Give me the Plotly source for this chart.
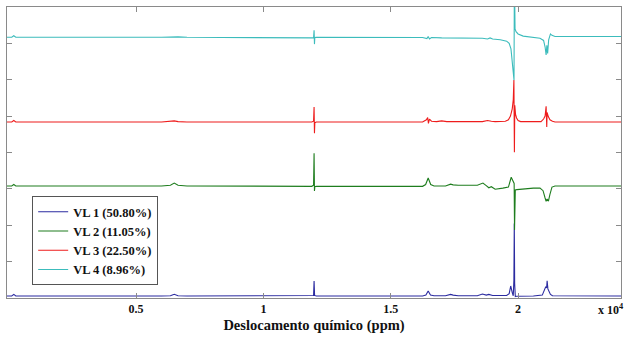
import plotly.graph_objects as go

# ---- data (x in units of 10^4) ----
X_TICKS = [0.5, 1, 1.5, 2]
X_TICK_TEXT = ["0.5", "1", "1.5", "2"]
Y_TICKS = [0, 1, 2, 3, 4, 5, 6, 7, 8]

SERIES_NAMES = ["VL 1 (50.80%)", "VL 2 (11.05%)", "VL 3 (22.50%)", "VL 4 (8.96%)"]
SERIES_COLORS = ["#2b2ba0", "#1e7d1e", "#ee1c1c", "#3cbcbc"]

vl1_x = [-0.007, 0.012, 0.02, 0.028, 0.60, 0.635, 0.65, 0.665, 0.70,
         1.190, 1.197, 1.199, 1.201, 1.208,
         1.625, 1.638, 1.647, 1.656, 1.67,
         1.715, 1.735, 1.745, 1.765,
         1.84, 1.86, 1.875, 1.885, 1.90, 1.93, 1.955, 1.965,
         1.971, 1.977, 1.981, 1.9835, 1.985, 1.9865, 1.989, 1.995,
         2.06, 2.095, 2.103, 2.108, 2.112, 2.114, 2.117, 2.121, 2.127, 2.135, 2.404]
vl1_y = [0.055, 0.055, 0.10, 0.055, 0.055, 0.06, 0.10, 0.06, 0.055,
         0.055, 0.07, 0.47, 0.07, 0.055,
         0.055, 0.08, 0.19, 0.08, 0.06,
         0.06, 0.10, 0.08, 0.06,
         0.06, 0.11, 0.08, 0.10, 0.07, 0.06, 0.07, 0.12,
         0.33, 0.15, 0.06, 0.5, 2.05, 0.4, 0.04, 0.05,
         0.055, 0.08, 0.22, 0.30, 0.28, 0.47, 0.25, 0.20, 0.10, 0.06, 0.055]

vl2_x = [-0.007, 0.012, 0.02, 0.028, 0.60, 0.635, 0.65, 0.665, 0.70,
         1.150, 1.190, 1.197, 1.199, 1.2005, 1.202, 1.208,
         1.625, 1.637, 1.647, 1.657, 1.67,
         1.715, 1.735, 1.745, 1.765,
         1.84, 1.862, 1.875, 1.885, 1.895, 1.91, 1.94, 1.962,
         1.973, 1.980, 1.9845, 1.986, 1.989, 1.995,
         2.02, 2.06, 2.086, 2.098, 2.106, 2.110, 2.114, 2.119, 2.125, 2.133, 2.145, 2.404]
vl2_y = [3.08, 3.08, 3.12, 3.08, 3.08, 3.10, 3.16, 3.10, 3.08,
         3.07, 3.07, 3.10, 3.98, 2.94, 3.06, 3.07,
         3.07, 3.12, 3.30, 3.12, 3.08,
         3.08, 3.13, 3.11, 3.10,
         3.10, 3.16, 3.09, 3.03, 3.06, 2.99, 3.02, 3.05,
         3.32, 3.19, 3.15, 1.87, 2.97, 2.98,
         3.00, 3.02, 3.02, 2.95, 2.75, 2.66, 2.72, 2.66, 2.85, 3.05, 3.08, 3.08]

vl3_x = [-0.007, 0.012, 0.02, 0.028, 0.60, 0.635, 0.65, 0.665, 0.70,
         1.190, 1.197, 1.199, 1.2005, 1.202, 1.208,
         1.625, 1.640, 1.645, 1.648, 1.652, 1.66,
         1.68, 1.70, 1.72,
         1.86, 1.88, 1.895, 1.91, 1.95, 1.962,
         1.970, 1.977, 1.981, 1.9835, 1.9855, 1.987, 1.990, 1.994, 2.000,
         2.01, 2.09, 2.100, 2.106, 2.110, 2.1125, 2.114, 2.116, 2.119, 2.125, 2.135, 2.145, 2.404]
vl3_y = [4.84, 4.84, 4.88, 4.84, 4.84, 4.85, 4.87, 4.85, 4.84,
         4.84, 4.86, 5.25, 4.53, 4.82, 4.84,
         4.84, 4.90, 4.96, 4.80, 4.92, 4.86,
         4.85, 4.87, 4.85,
         4.85, 4.88, 4.86, 4.85, 4.86, 4.90,
         5.00, 5.20, 5.45, 5.99, 4.01, 5.30, 5.05, 4.95, 4.88,
         4.85, 4.85, 4.92, 5.00, 5.27, 4.70, 5.10, 5.05, 4.98, 4.90, 4.86, 4.84, 4.84]

vl4_x = [-0.007, 0.012, 0.02, 0.028, 0.60, 0.635, 0.65, 0.665, 0.70,
         1.190, 1.197, 1.199, 1.2005, 1.202, 1.208,
         1.625, 1.642, 1.647, 1.652, 1.66,
         1.70, 1.75, 1.80, 1.86, 1.88, 1.89, 1.90, 1.93,
         1.955, 1.965, 1.972, 1.978, 1.9825, 1.984, 1.9855, 1.988, 1.992,
         2.00, 2.02, 2.05, 2.086, 2.100, 2.106, 2.110, 2.113, 2.116, 2.120, 2.127, 2.133, 2.145, 2.404]
vl4_y = [7.17, 7.17, 7.21, 7.17, 7.17, 7.18, 7.19, 7.18, 7.17,
         7.17, 7.15, 7.36, 6.98, 7.16, 7.17,
         7.16, 7.13, 7.19, 7.12, 7.16,
         7.15, 7.15, 7.15, 7.14, 7.12, 7.15, 7.12, 7.10,
         7.06, 7.00, 6.85, 6.50, 6.10, 5.99, 9.0, 7.40, 7.32,
         7.26, 7.20, 7.17, 7.14, 7.08, 6.90, 6.68, 6.95, 6.72, 7.10, 7.26, 7.22, 7.19, 7.19]

SERIES_X = [vl1_x, vl2_x, vl3_x, vl4_x]
SERIES_Y = [vl1_y, vl2_y, vl3_y, vl4_y]

X_RANGE = [-0.0066, 2.404]
Y_RANGE = [0, 8]

# ---- figure ----
SERIF = "Liberation Serif"
AXIS_GRAY = "#8a8a8a"
TEXT = "#111111"

fig = go.Figure()
for name, color, xs, ys in zip(SERIES_NAMES, SERIES_COLORS, SERIES_X, SERIES_Y):
    fig.add_trace(go.Scatter(x=xs, y=ys, mode="lines", name=name,
                             line=dict(color=color, width=1.1)))

fig.update_layout(
    width=633, height=339,
    margin=dict(l=7, r=12, t=7, b=41),
    paper_bgcolor="white", plot_bgcolor="white",
    showlegend=True,
    legend=dict(x=0.041, y=0.35, xanchor="left", yanchor="top",
                bgcolor="white", bordercolor="#555555", borderwidth=1,
                font=dict(family=SERIF, size=12.5, color=TEXT, weight="bold"),
                itemwidth=30, tracegroupgap=0),
    xaxis=dict(range=X_RANGE, tickvals=X_TICKS, ticktext=X_TICK_TEXT,
               ticks="inside", ticklen=5, tickcolor=AXIS_GRAY,
               showline=True, linecolor=AXIS_GRAY, linewidth=1, mirror="ticks",
               showgrid=False, zeroline=False,
               tickfont=dict(family=SERIF, size=12, color=TEXT, weight="bold"),
               title=dict(text="Deslocamento químico (ppm)", standoff=4,
                          font=dict(family=SERIF, size=14.5, color=TEXT, weight="bold"))),
    yaxis=dict(range=Y_RANGE, tickvals=Y_TICKS, showticklabels=False,
               ticks="inside", ticklen=5, tickcolor=AXIS_GRAY,
               showline=True, linecolor=AXIS_GRAY, linewidth=1, mirror="ticks",
               showgrid=False, zeroline=False),
    annotations=[dict(text="x 10<sup>4</sup>", xref="paper", yref="paper",
                      x=1.008, y=-0.04, xanchor="right", yanchor="middle",
                      showarrow=False,
                      font=dict(family=SERIF, size=12, color=TEXT, weight="bold"))],
)

fig.write_html("out.html",
               config={"displayModeBar": False},
               post_script="document.body.style.margin='0';document.body.style.overflow='hidden';")
